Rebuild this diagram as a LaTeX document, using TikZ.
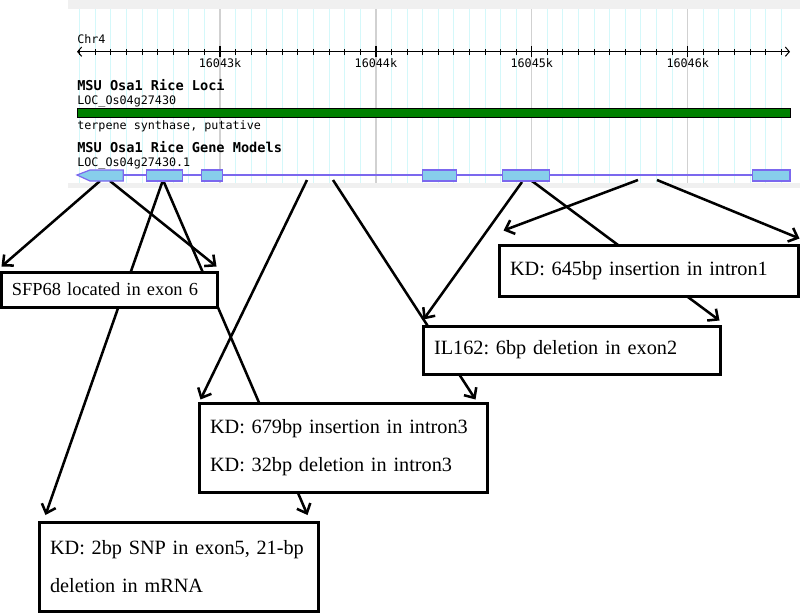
\documentclass[tikz,border=0pt]{standalone}
\usepackage{fontspec}
\setmainfont{Liberation Serif}
\newfontfamily\gbfont{DejaVu Sans Mono}
\usetikzlibrary{arrows.meta}
\frenchspacing

\pgfdeclarelayer{panel}
\pgfdeclarelayer{links}
\pgfsetlayers{panel,links,main}

\definecolor{exonblue}{RGB}{135,206,235}
\definecolor{modelline}{RGB}{123,104,238}
\definecolor{locigreen}{RGB}{0,128,0}
\definecolor{gridcyan}{RGB}{212,248,250}
\definecolor{bandgray}{RGB}{240,240,240}

\tikzset{
  note/.style={draw, line width=2.25pt, fill=white, align=left, inner xsep=8.25pt, inner ysep=2pt, font=\fontsize{15.2}{28.5}\selectfont},
  link/.style={-{Straight Barb[length=6pt,width=11pt]}, line width=1.9pt},
  exon/.style={fill=exonblue, draw=modelline, line width=0.9pt},
  track/.style={font=\gbfont\fontsize{8.8}{10}\selectfont, inner sep=0pt, anchor=base west},
  trackhead/.style={font=\gbfont\bfseries\fontsize{10.2}{12}\selectfont, inner sep=0pt, anchor=base west}
}

\begin{document}
\begin{tikzpicture}[x=0.75pt,y=-0.75pt]
\useasboundingbox (0,0) rectangle (800,614);

\begin{pgfonlayer}{panel}
\fill[bandgray] (68,0) rectangle (800,9);
\fill[bandgray] (68,183) rectangle (800,188);
\foreach \k in {-9,...,36}
  \draw[gridcyan, line width=0.75pt] (220+15.59*\k,9) -- (220+15.59*\k,183);
\foreach \k in {0,1,2,3}
  \draw[black!18, line width=0.9pt] (220+155.9*\k,9) -- (220+155.9*\k,183);
\end{pgfonlayer}

\draw[line width=0.75pt, {Straight Barb[length=3pt,width=7pt]}-{Straight Barb[length=3pt,width=7pt]}] (77,51.7) -- (790,51.7);
\foreach \k in {-9,...,36}
  \draw[line width=0.75pt] (220+15.59*\k,49) -- (220+15.59*\k,54.5);
\foreach \k/\pos in {0/16043k,1/16044k,2/16045k,3/16046k}{
  \draw[line width=0.9pt] (220+155.9*\k,46) -- (220+155.9*\k,57);
  \node[track, anchor=base] (tick\k) at (220+155.9*\k,67.7) {\pos};
}
\node[track] (chr) at (77,43) {Chr4};

\node[trackhead] (loci) at (77,90.7) {MSU Osa1 Rice Loci};
\node[track] (locid) at (77,104.3) {LOC\_Os04g27430};
\draw[fill=locigreen, line width=0.75pt] (77,108.3) rectangle (790,117.3);
\node[track] (func) at (77,129) {terpene synthase, putative};

\node[trackhead] (models) at (77,152) {MSU Osa1 Rice Gene Models};
\node[track] (modelid) at (77,166.7) {LOC\_Os04g27430.1};
\draw[modelline, line width=0.9pt] (77,175) -- (790,175);
\draw[exon] (77,175) -- (90,170) -- (123.3,170) -- (123.3,181) -- (90,181) -- cycle;
\draw[exon] (146.7,170) rectangle (182.3,181);
\draw[exon] (201.3,170) rectangle (222.7,181);
\draw[exon] (422.3,170) rectangle (456.7,181);
\draw[exon] (502.3,170) rectangle (549.3,181);
\draw[exon] (752.3,170) rectangle (790,181);

\coordinate (exon6a) at (100,181);
\coordinate (exon6b) at (110,181);
\coordinate (exon5) at (163,180);
\coordinate (intron3a) at (307,180);
\coordinate (intron3b) at (333,180);
\coordinate (exon2a) at (522,182);
\coordinate (exon2b) at (532,181);
\coordinate (intron1a) at (638,180);
\coordinate (intron1b) at (657,180);

\node[note, font=\fontsize{13.8}{20}\selectfont, text width=145.5pt, minimum height=26.25pt] (sfp) at (109,289.5) {SFP68 located in exon 6};
\node[note, text width=207.75pt, minimum height=38.25pt] (ins645) at (648.5,270.5) {KD: 645bp insertion in intron1};
\node[note, text width=206.25pt, minimum height=36pt] (del6) at (571.5,350) {IL162: 6bp deletion in exon2};
\node[note, text width=199.5pt, minimum height=66.75pt] (ins679) at (343,447.5) {KD: 679bp insertion in intron3\\KD: 32bp deletion in intron3};
\node[note, text width=192.75pt, minimum height=66.75pt] (snp) at (178.5,567) {KD: 2bp SNP in exon5, 21-bp\\deletion in mRNA};

\begin{pgfonlayer}{links}
\draw[link] (exon6a) -- ([xshift=1.5pt,yshift=3pt]sfp.north west);
\draw[link] (exon6b) -- ([xshift=-1.5pt,yshift=3pt]sfp.north east);
\draw[link] (exon5) -- ([xshift=6pt,yshift=4.5pt]snp.north west);
\draw[link] (exon5) -- ([xshift=-9pt,yshift=4.5pt]snp.north east);
\draw[link] (intron3a) -- ([xshift=2.25pt,yshift=1.5pt]ins679.north west);
\draw[link] (intron3b) -- ([xshift=-9.75pt,yshift=1.5pt]ins679.north east);
\draw[link] (exon2a) -- ([xshift=1.5pt,yshift=3.75pt]del6.north west);
\draw[link] (exon2b) -- ([xshift=-1.5pt,yshift=3pt]del6.north east);
\draw[link] (intron1a) -- ([xshift=4.5pt,yshift=9.75pt]ins645.north west);
\draw[link] (intron1b) -- ([yshift=3.75pt]ins645.north east);
\end{pgfonlayer}
\end{tikzpicture}
\end{document}
